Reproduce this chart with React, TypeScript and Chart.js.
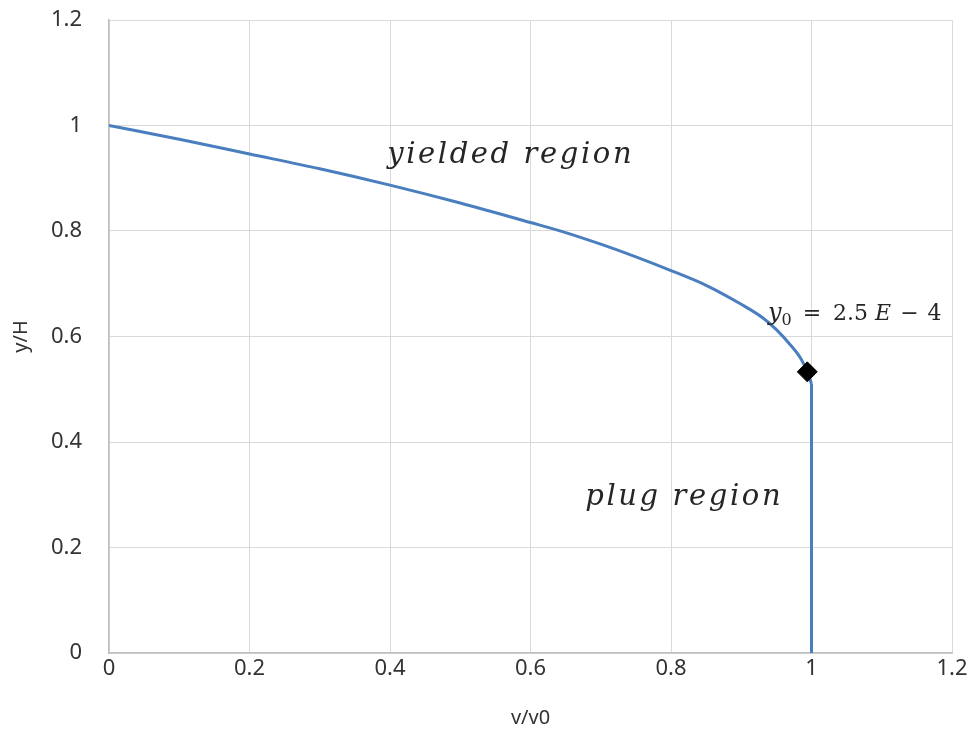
import React, { useEffect, useRef } from "react";
import { Chart, registerables } from "chart.js";

Chart.register(...registerables);

// Velocity profile: v/v0 against y/H (yielded part, then the plug at v/v0 = 1)
const velocityRatio = [0, 0.1, 0.2, 0.3, 0.4, 0.5, 0.6, 0.65, 0.7, 0.75, 0.8, 0.85, 0.9, 0.93, 0.95, 0.97, 0.985, 0.994, 1.0, 1.0];
const heightRatio = [1, 0.974, 0.946, 0.918, 0.887, 0.853, 0.816, 0.797, 0.775, 0.751, 0.725, 0.697, 0.661, 0.636, 0.613, 0.584, 0.558, 0.533, 0.51, 0];

// Yield point marker
const yieldVelocity = [0.994];
const yieldHeight = [0.533];

const xTicks = [0, 0.2, 0.4, 0.6, 0.8, 1, 1.2];
const yTicks = [0, 0.2, 0.4, 0.6, 0.8, 1, 1.2];

const LINE_BLUE = "#4A7EBF";
const GRID = "#D9D9D9";
const AXIS = "#BFBFBF";
const TEXT = "#333333";
const MATH_TEXT = "#262626";
const UI_FONT = '"Noto Sans", "Open Sans", sans-serif';
const MATH_FONT = '"DejaVu Serif", "Liberation Serif", serif';

function drawSpaced(ctx: any, text: string, x: number, y: number, spacing: number) {
  let px = x;
  for (const ch of text) {
    ctx.fillText(ch, px, y);
    px += ctx.measureText(ch).width + spacing;
  }
}

const regionLabels = {
  id: "regionLabels",
  afterDatasetsDraw(chart: any) {
    const { ctx, scales } = chart;
    const x = scales.x;
    const y = scales.y;
    ctx.save();
    ctx.fillStyle = MATH_TEXT;
    ctx.textAlign = "left";
    ctx.textBaseline = "alphabetic";

    ctx.font = `italic 29px ${MATH_FONT}`;
    drawSpaced(ctx, "yielded region", x.getPixelForValue(0.396), y.getPixelForValue(0.928), 2.6);
    drawSpaced(ctx, "plug region", x.getPixelForValue(0.678), y.getPixelForValue(0.280), 2.6);

    // y0 = 2.5 E − 4, set piecewise for the subscript, italics and operator spacing
    let px = x.getPixelForValue(0.938);
    const base = y.getPixelForValue(0.632);
    const pieces: [string, string, number, number][] = [
      ["y", `italic 24px ${MATH_FONT}`, 0, 0],
      ["0", `16px ${MATH_FONT}`, 5, 11],
      ["=", `22px ${MATH_FONT}`, 0, 12],
      ["2.5", `22px ${MATH_FONT}`, 0, 7],
      ["E", `italic 22px ${MATH_FONT}`, 0, 9],
      ["\u2212", `22px ${MATH_FONT}`, 0, 9],
      ["4", `22px ${MATH_FONT}`, 0, 0],
    ];
    for (const [txt, font, dy, gap] of pieces) {
      ctx.font = font;
      ctx.fillText(txt, px, base + dy);
      px += ctx.measureText(txt).width + gap;
    }
    ctx.restore();
  },
};

export default function App() {
  const canvasRef = useRef<HTMLCanvasElement | null>(null);

  useEffect(() => {
    const canvas = canvasRef.current;
    if (!canvas) return;

    const profile = velocityRatio.map((v, i) => ({ x: v, y: heightRatio[i] }));
    const yielded = profile.slice(0, profile.length - 1);
    const plug = profile.slice(profile.length - 2);
    const marker = yieldVelocity.map((v, i) => ({ x: v, y: yieldHeight[i] }));

    const lineStyle = {
      showLine: true,
      borderColor: LINE_BLUE,
      backgroundColor: LINE_BLUE,
      borderWidth: 3,
      pointRadius: 0,
      fill: false,
      order: 1,
    };

    const chart = new Chart(canvas, {
      type: "scatter",
      data: {
        datasets: [
          {
            label: "yield point",
            data: marker,
            pointStyle: "rectRot",
            pointRadius: 10,
            backgroundColor: "#000000",
            borderColor: "#000000",
            borderWidth: 1,
            showLine: false,
            order: 0,
          },
          {
            label: "yielded",
            data: yielded,
            cubicInterpolationMode: "monotone",
            ...lineStyle,
          },
          {
            label: "plug",
            data: plug,
            tension: 0,
            ...lineStyle,
          },
        ],
      },
      options: {
        responsive: false,
        animation: false,
        layout: { padding: { top: 20, right: 19, left: 0, bottom: 0 } },
        plugins: {
          legend: { display: false },
          tooltip: { enabled: false },
        },
        scales: {
          x: {
            type: "linear",
            min: 0,
            max: 1.2,
            afterBuildTicks: (scale: any) => {
              scale.ticks = xTicks.map((v) => ({ value: v }));
            },
            afterFit: (scale: any) => {
              scale.height = 90;
            },
            grid: { color: GRID, lineWidth: 1, drawTicks: false },
            border: { color: AXIS, width: 1.5 },
            ticks: {
              padding: 3,
              color: TEXT,
              font: { family: UI_FONT, size: 22 },
              callback: (v: any) => String(v),
            },
            title: {
              display: true,
              text: "v/v0",
              color: TEXT,
              font: { family: UI_FONT, size: 20 },
              padding: { top: 0, bottom: 13 },
            },
          },
          y: {
            type: "linear",
            min: 0,
            max: 1.2,
            afterBuildTicks: (scale: any) => {
              scale.ticks = yTicks.map((v) => ({ value: v }));
            },
            afterFit: (scale: any) => {
              scale.width = 109;
              scale.paddingTop = 0;
              scale.paddingBottom = 0;
            },
            grid: { color: GRID, lineWidth: 1, drawTicks: false },
            border: { color: AXIS, width: 1.5 },
            ticks: {
              padding: 27,
              color: TEXT,
              font: { family: UI_FONT, size: 22 },
              callback: (v: any) => String(v),
            },
            title: {
              display: true,
              text: "y/H",
              color: TEXT,
              font: { family: UI_FONT, size: 20 },
              padding: { top: 9, bottom: 0 },
            },
          },
        },
      },
      plugins: [regionLabels],
    });

    return () => chart.destroy();
  }, []);

  return (
    <div style={{ position: "fixed", left: 0, top: 0, width: 971, height: 743, background: "#ffffff" }}>
      <canvas ref={canvasRef} width={971} height={743} style={{ display: "block" }} />
    </div>
  );
}
